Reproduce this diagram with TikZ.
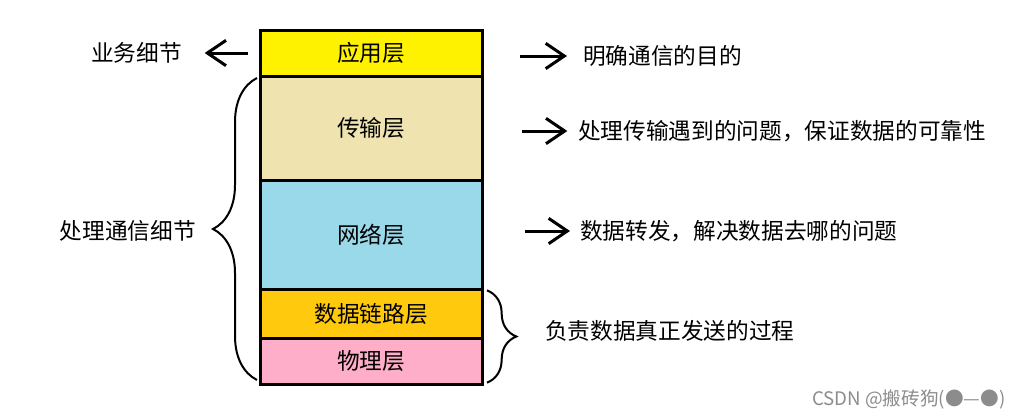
\documentclass[tikz,border=0pt]{standalone}
\usepackage{fontspec}
\setmainfont{Noto Sans CJK SC}
\usetikzlibrary{positioning,arrows.meta,decorations.pathreplacing}
\definecolor{appyellow}{HTML}{FFF200}
\definecolor{transtan}{HTML}{EFE4B0}
\definecolor{netblue}{HTML}{99D9EA}
\definecolor{linkgold}{HTML}{FFC90E}
\definecolor{phypink}{HTML}{FFAEC9}
\begin{document}
\begin{tikzpicture}[x=0.75pt, y=-0.75pt, node distance=0pt,
    layer/.style={rectangle, draw, line width=2.25pt, minimum width=166.5pt, outer sep=0pt, inner sep=0pt, font=\fontsize{17}{20}\selectfont},
    note/.style={inner sep=0pt, font=\fontsize{17}{20}\selectfont},
    arr/.style={-{Straight Barb[length=14pt, width=19pt, line width=2.25pt]}, line width=2.25pt},
    curly/.style={decorate, decoration={brace, amplitude=33pt}, line width=1.5pt}]
    \useasboundingbox (0,0) rectangle (1029,418);

    % protocol stack
    \node[layer, fill=appyellow, minimum height=34.5pt] (app) at (371,53) {应用层};
    \node[layer, fill=transtan, minimum height=78pt, below=of app] (trans) {传输层};
    \node[layer, fill=netblue, minimum height=81.75pt, below=of trans] (net) {网络层};
    \node[layer, fill=linkgold, minimum height=36.75pt, below=of net] (link) {数据链路层};
    \node[layer, fill=phypink, minimum height=34.5pt, below=of link] (phy) {物理层};

    % descriptions
    \node[note, anchor=east] (biz) at (182,53) {业务细节};
    \node[note, anchor=east] (comm) at (196,231) {处理通信细节};
    \node[note, anchor=west] (goal) at (583,56) {明确通信的目的};
    \node[note, anchor=west] (reliab) at (578,131) {处理传输遇到的问题，保证数据的可靠性};
    \node[note, anchor=west] (fwd) at (580,231) {数据转发，解决数据去哪的问题};
    \node[note, anchor=west] (send) at (545,331) {负责数据真正发送的过程};

    \draw[arr, shorten <=9pt, shorten >=17pt] (app.west) -- (biz.east);
    \draw[arr, shorten <=28.5pt, shorten >=12pt] (app.east |- goal) -- (goal.west);
    \draw[arr, shorten <=30pt, shorten >=8pt] (trans.east |- reliab) -- (reliab.west);
    \draw[arr, shorten <=32pt, shorten >=7.5pt] (net.east |- fwd) -- (fwd.west);

    % braces
    \coordinate (lb-bot) at ([xshift=-2.25pt, yshift=3pt]phy.south west);
    \coordinate (lb-top) at ([xshift=-2.25pt, yshift=-1.5pt]trans.north west);
    \draw[curly] (lb-bot) -- (lb-top);
    \coordinate (rb-top) at ([xshift=3.75pt, yshift=-1pt]link.north east);
    \coordinate (rb-bot) at ([xshift=3.75pt, yshift=1pt]phy.south east);
    \draw[curly, decoration={amplitude=22pt}] (rb-top) -- (rb-bot);

    \node[inner sep=0pt, anchor=west, text=black!45, font=\fontsize{14}{16}\selectfont] (mark) at (812,399) {CSDN @搬砖狗(●—●)};
\end{tikzpicture}
\end{document}
